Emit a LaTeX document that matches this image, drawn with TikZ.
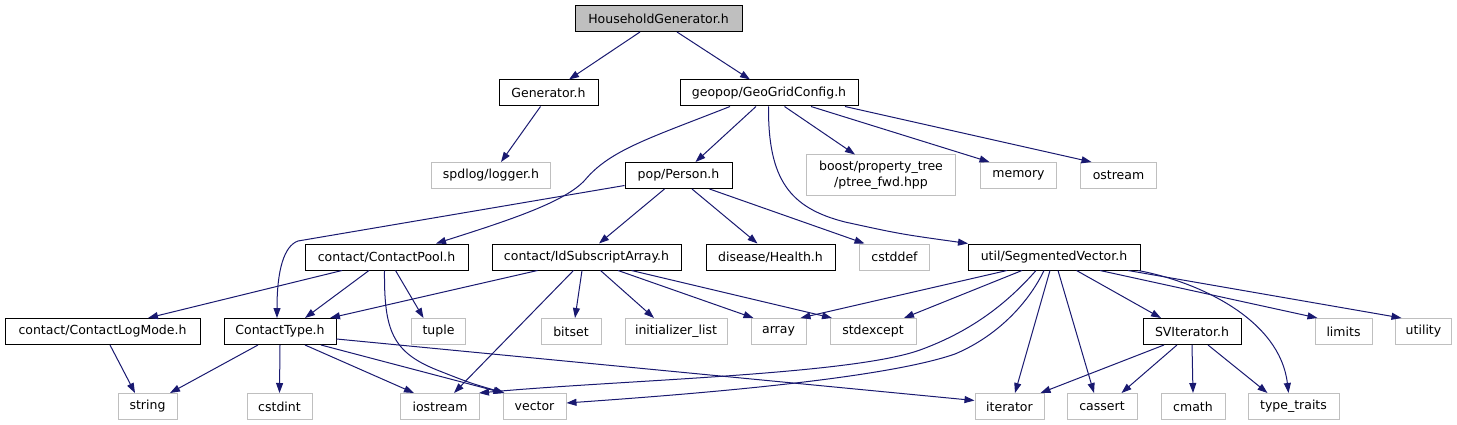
\documentclass[tikz,border=0pt]{standalone}
\usepackage{fontspec}
\setmainfont{DejaVu Sans}
\usepackage{tikz}
\usetikzlibrary{arrows.meta}
\definecolor{edgeblue}{HTML}{191970}
\definecolor{extgray}{HTML}{BFBFBF}

\tikzset{
  hdr/.style={draw=black,line width=1pt,inner sep=0pt,minimum height=26,
    font=\fontsize{12.5}{15.5}\selectfont},
  ext/.style={hdr,draw=extgray},
  root/.style={hdr,fill=extgray},
  dep/.style={edgeblue,line width=1pt,-{Triangle[length=10pt,width=7pt]}}
}

\begin{document}
\begin{tikzpicture}[x=1pt,y=-1pt]
\useasboundingbox (0,0) rectangle (1457,425);
% rank 1-3
\node[root,minimum width=167] (hg) at (658.5,18.5) {HouseholdGenerator.h};
\node[hdr,minimum width=99] (gen) at (548.5,93) {Generator.h};
\node[hdr,minimum width=178] (ggc) at (769,93) {geopop/GeoGridConfig.h};
\node[ext,minimum width=119] (spd) at (491,175.5) {spdlog/logger.h};
\node[hdr,minimum width=107] (person) at (678.5,175.5) {pop/Person.h};
\node[ext,minimum width=149,minimum height=40,align=center] (boost) at (881,175) {boost/property\_tree\\/ptree\_fwd.hpp};
\node[ext,minimum width=76] (memory) at (1018.5,175.5) {memory};
\node[ext,minimum width=76] (ostream) at (1118.5,175.5) {ostream};
% rank 4
\node[hdr,minimum width=163] (cpool) at (386.5,257) {contact/ContactPool.h};
\node[hdr,minimum width=189] (idsub) at (586.5,257) {contact/IdSubscriptArray.h};
\node[hdr,minimum width=129] (health) at (770.5,257) {disease/Health.h};
\node[ext,minimum width=70] (cstddef) at (894.5,257) {cstddef};
\node[hdr,minimum width=172] (segvec) at (1054,257) {util/SegmentedVector.h};
% rank 5
\node[hdr,minimum width=195] (logmode) at (102.5,331.5) {contact/ContactLogMode.h};
\node[hdr,minimum width=112] (ctype) at (280,331.5) {ContactType.h};
\node[ext,minimum width=54] (tuple) at (438.5,331.5) {tuple};
\node[ext,minimum width=60] (bitset) at (571,331.5) {bitset};
\node[ext,minimum width=102] (initl) at (676,331.5) {initializer\_list};
\node[ext,minimum width=55] (array) at (778.5,331.5) {array};
\node[ext,minimum width=86] (stdexcept) at (873,331.5) {stdexcept};
\node[hdr,minimum width=98] (sviter) at (1192,331.5) {SVIterator.h};
\node[ext,minimum width=57] (limits) at (1343.5,331.5) {limits};
\node[ext,minimum width=56] (utility) at (1423.5,331.5) {utility};
% rank 6
\node[ext,minimum width=59] (string) at (147.5,406.5) {string};
\node[ext,minimum width=65] (cstdint) at (279.5,406.5) {cstdint};
\node[ext,minimum width=79] (iostream) at (440,406.5) {iostream};
\node[ext,minimum width=63] (vector) at (534.5,406.5) {vector};
\node[ext,minimum width=69] (iterator) at (1009.5,406.5) {iterator};
\node[ext,minimum width=70] (cassert) at (1102,406.5) {cassert};
\node[ext,minimum width=64] (cmath) at (1193,406.5) {cmath};
\node[ext,minimum width=91] (typetr) at (1293.5,406.5) {type\_traits};
% includes
\draw[dep] ([xshift=-18.5]hg.south) -- ([xshift=20.5]gen.north);
\draw[dep] ([xshift=18.5]hg.south) -- ([xshift=-19]ggc.north);
\draw[dep] ([xshift=-8]gen.south) -- ([xshift=10]spd.north);
\draw[dep] ([xshift=-13]ggc.south) -- ([xshift=17]person.north);
\draw[dep] ([xshift=-39]ggc.south) .. controls (650,138) and (610,150) .. (585,180) .. controls (565,202) and (510,220) .. ([xshift=49.5]cpool.north);
\draw[dep] ([xshift=15.5]ggc.south) -- ([xshift=-26]boost.north);
\draw[dep] ([xshift=42]ggc.south) -- ([xshift=-29]memory.north);
\draw[dep] ([xshift=76]ggc.south) -- ([xshift=-27]ostream.north);
\draw[dep] ([xshift=-0.5]ggc.south) .. controls (768,180) and (790,208) .. (845,222) .. controls (900,234) .. ([xshift=-86]segvec.north);
\draw[dep] ([yshift=-10]person.west) -- (298,241) .. controls (284,246) and (277,270) .. ([xshift=-3]ctype.north);
\draw[dep] ([xshift=-14]person.south) -- ([xshift=12.5]idsub.north);
\draw[dep] ([xshift=13.5]person.south) -- ([xshift=-13]health.north);
\draw[dep] ([xshift=31]person.south) -- ([xshift=-30]cstddef.north);
\draw[dep] ([xshift=-44.5]cpool.south) -- ([xshift=45.5]logmode.north);
\draw[dep] ([xshift=-17.5]cpool.south) -- ([xshift=25]ctype.north);
\draw[dep] ([xshift=9]cpool.south) -- ([xshift=-15]tuple.north);
\draw[dep] ([xshift=-2]cpool.south) .. controls (384,330) and (392,352) .. (437,370) .. controls (470,383) .. ([xshift=-30]vector.north);
\draw[dep] ([xshift=-49]idsub.south) -- ([xshift=50]ctype.north);
\draw[dep] ([xshift=-13]idsub.south) -- ([xshift=14]iostream.north);
\draw[dep] ([xshift=-4.5]idsub.south) -- ([xshift=4]bitset.north);
\draw[dep] ([xshift=14]idsub.south) -- ([xshift=-22]initl.north);
\draw[dep] ([xshift=31.5]idsub.south) -- ([xshift=-25]array.north);
\draw[dep] ([xshift=45]idsub.south) -- ([xshift=-41]stdexcept.north);
\draw[dep] ([xshift=7.5]logmode.south) -- ([xshift=-12.5]string.north);
\draw[dep] ([xshift=-22]ctype.south) -- ([xshift=22.5]string.north);
\draw[dep] (ctype.south) -- (cstdint.north);
\draw[dep] ([xshift=25]ctype.south) -- ([xshift=-26]iostream.north);
\draw[dep] ([xshift=41]ctype.south) -- ([xshift=-31]vector.north);
\draw[dep] ([yshift=-7.5]ctype.east) -- ([yshift=6]iterator.west);
\draw[dep] ([xshift=-47]segvec.south) -- ([xshift=22]array.north);
\draw[dep] ([xshift=-32]segvec.south) -- ([xshift=31]stdexcept.north);
\draw[dep] ([xshift=-18]segvec.south) .. controls (1010,300) and (975,330) .. (920,350) .. controls (850,375) and (620,380) .. ([xshift=-1]iostream.north east);
\draw[dep] ([xshift=-10]segvec.south) .. controls (1030,300) and (1000,335) .. (955,354) .. controls (880,380) and (680,395) .. ([yshift=3.5]vector.east);
\draw[dep] ([xshift=-4]segvec.south) -- ([xshift=5.5]iterator.north);
\draw[dep] ([xshift=4]segvec.south) -- ([xshift=-8]cassert.north);
\draw[dep] ([xshift=22.5]segvec.south) -- ([xshift=-31]sviter.north);
\draw[dep] ([xshift=46]segvec.south) -- ([xshift=-26]limits.north);
\draw[dep] ([xshift=74]segvec.south) -- ([xshift=-22]utility.north);
\draw[dep] ([xshift=84]segvec.south) .. controls (1200,282) and (1280,320) .. ([xshift=-5]typetr.north);
\draw[dep] ([xshift=-28]sviter.south) -- ([xshift=31]iterator.north);
\draw[dep] ([xshift=-15]sviter.south) -- ([xshift=19.5]cassert.north);
\draw[dep] (sviter.south) -- (cmath.north);
\draw[dep] ([xshift=16]sviter.south) -- ([xshift=-26]typetr.north);
\end{tikzpicture}
\end{document}
